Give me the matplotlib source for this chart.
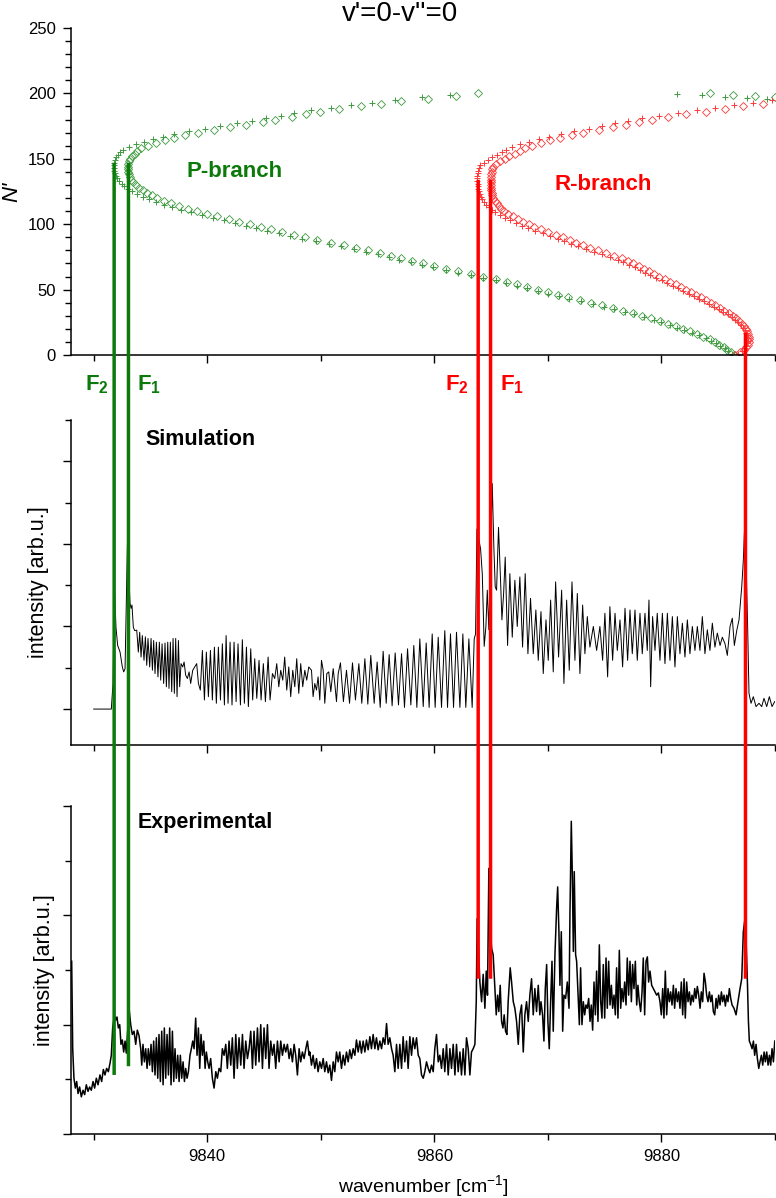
import matplotlib
matplotlib.use("Agg")
import matplotlib.pyplot as plt
from matplotlib.patches import ConnectionPatch
from matplotlib.ticker import MultipleLocator, NullFormatter

plt.rcParams['font.family'] = ['Liberation Sans', 'DejaVu Sans']
plt.rcParams['mathtext.fontset'] = 'custom'
plt.rcParams['mathtext.rm'] = 'Liberation Sans'
plt.rcParams['mathtext.bf'] = 'Liberation Sans:bold'
plt.rcParams['mathtext.it'] = 'Liberation Sans:italic'

# ---------------- Fortrat diagram ----------------
N_even = [0, 2, 4, 6, 8, 10, 12, 14, 16, 18, 20, 22, 24, 26, 28, 30, 32, 34, 36, 38,
          40, 42, 44, 46, 48, 50, 52, 54, 56, 58, 60, 62, 64, 66, 68, 70, 72, 74, 76, 78,
          80, 82, 84, 86, 88, 90, 92, 94, 96, 98, 100, 102, 104, 106, 108, 110, 112, 114,
          116, 118, 120, 122, 124, 126, 128, 130, 132, 134, 136, 138, 140, 142, 144, 146,
          148, 150, 152, 154, 156, 158, 160, 162, 164, 166, 168, 170, 172, 174, 176, 178,
          180, 182, 184, 186, 188, 190, 192, 194, 196, 198, 200]
N_odd = [1, 3, 5, 7, 9, 11, 13, 15, 17, 19, 21, 23, 25, 27, 29, 31, 33, 35, 37, 39,
         41, 43, 45, 47, 49, 51, 53, 55, 57, 59, 61, 63, 65, 67, 69, 71, 73, 75, 77, 79,
         81, 83, 85, 87, 89, 91, 93, 95, 97, 99, 101, 103, 105, 107, 109, 111, 113, 115,
         117, 119, 121, 123, 125, 127, 129, 131, 133, 135, 137, 139, 141, 143, 145, 147,
         149, 151, 153, 155, 157, 159, 161, 163, 165, 167, 169, 171, 173, 175, 177, 179,
         181, 183, 185, 187, 189, 191, 193, 195, 197, 199]

# P-branch F1 (diamonds), N even
p_f1 = [9886.4, 9886.1, 9885.8, 9885.5, 9885.1, 9884.7, 9884.3, 9883.7, 9883.1, 9882.5,
        9881.9, 9881.3, 9880.6, 9879.9, 9879.1, 9878.3, 9877.5, 9876.6, 9875.7, 9874.8,
        9873.8, 9872.8, 9871.8, 9870.9, 9870.0, 9869.1, 9868.2, 9867.3, 9866.4, 9865.4,
        9864.3, 9863.2, 9862.1, 9861.0, 9860.0, 9859.0, 9858.0, 9857.1, 9856.2, 9855.2,
        9854.2, 9853.1, 9852.0, 9850.9, 9849.7, 9848.6, 9847.6, 9846.6, 9845.6, 9844.7,
        9843.8, 9842.8, 9841.9, 9840.9, 9840.0, 9839.1, 9838.3, 9837.5, 9836.8, 9836.2,
        9835.6, 9835.1, 9834.7, 9834.3, 9834.0, 9833.7, 9833.5, 9833.3, 9833.2, 9833.1,
        9833.0, 9833.0, 9833.0, 9833.05, 9833.1, 9833.2, 9833.4, 9833.6, 9833.85, 9834.2,
        9834.8, 9835.5, 9836.3, 9837.1, 9838.0, 9839.2, 9840.6, 9842.0, 9843.4, 9844.9,
        9846.0, 9847.5, 9848.7, 9849.9, 9851.6, 9853.5, 9855.3, 9857.1, 9859.4, 9861.9,
        9863.8]
# P-branch F2 (plus), N odd
p_f2 = [9886.2, 9885.9, 9885.6, 9885.2, 9884.8, 9884.4, 9883.9, 9883.3, 9882.65, 9882.0,
        9881.4, 9880.75, 9880.0, 9879.3, 9878.45, 9877.6, 9876.75, 9875.85, 9874.9, 9873.95,
        9872.95, 9871.9, 9870.95, 9870.0, 9869.1, 9868.2, 9867.3, 9866.35, 9865.4, 9864.3,
        9863.2, 9862.1, 9861.0, 9859.9, 9858.9, 9857.9, 9856.9, 9856.0, 9855.0, 9854.0,
        9852.95, 9851.8, 9850.7, 9849.55, 9848.35, 9847.3, 9846.3, 9845.25, 9844.3, 9843.4,
        9842.4, 9841.45, 9840.5, 9839.5, 9838.6, 9837.7, 9836.9, 9836.15, 9835.45, 9834.85,
        9834.3, 9833.8, 9833.4, 9833.05, 9832.7, 9832.45, 9832.2, 9832.05, 9831.95, 9831.85,
        9831.75, 9831.75, 9831.75, 9831.8, 9831.85, 9831.95, 9832.15, 9832.35, 9832.6, 9833.1,
        9833.75, 9834.45, 9835.25, 9836.1, 9837.1, 9838.4, 9839.8, 9841.15, 9842.6, 9843.9,
        9845.15, 9846.5, 9847.65, 9849.1, 9850.9, 9852.7, 9854.5, 9856.5, 9858.9, 9861.35]
# R-branch F1 (diamonds), N even
r_f1 = [9886.5, 9886.95, 9887.25, 9887.45, 9887.6, 9887.7, 9887.7, 9887.7, 9887.65, 9887.55,
        9887.45, 9887.3, 9887.1, 9886.85, 9886.6, 9886.3, 9885.95, 9885.55, 9885.15, 9884.75,
        9884.35, 9883.95, 9883.5, 9883.05, 9882.6, 9882.15, 9881.7, 9881.25, 9880.75, 9880.3,
        9879.8, 9879.35, 9878.9, 9878.45, 9878.0, 9877.5, 9877.05, 9876.5, 9875.85, 9875.1,
        9874.4, 9873.7, 9873.05, 9872.5, 9871.95, 9871.35, 9870.7, 9870.0, 9869.35, 9868.8,
        9868.3, 9867.8, 9867.35, 9866.9, 9866.5, 9866.15, 9865.9, 9865.7, 9865.5, 9865.35,
        9865.2, 9865.1, 9865.05, 9865.0, 9864.97, 9864.95, 9864.95, 9864.95, 9864.97, 9865.0,
        9865.05, 9865.1, 9865.2, 9865.45, 9865.8, 9866.2, 9866.6, 9867.1, 9867.5, 9867.95,
        9868.6, 9869.35, 9870.2, 9871.1, 9872.1, 9873.1, 9874.5, 9875.7, 9876.9, 9878.05,
        9879.2, 9880.6, 9882.2, 9883.9, 9885.6, 9887.2, 9888.9, 9890.6, 9892.3, 9894.0,
        9895.7]
# R-branch F2 (plus), N odd
r_f2 = [9886.7, 9887.07, 9887.3, 9887.46, 9887.57, 9887.6, 9887.59, 9887.54, 9887.45, 9887.33,
        9887.19, 9887.0, 9886.75, 9886.48, 9886.19, 9885.85, 9885.46, 9885.04, 9884.62, 9884.21,
        9883.79, 9883.34, 9882.87, 9882.41, 9881.94, 9881.47, 9881.0, 9880.52, 9880.02, 9879.53,
        9879.03, 9878.57, 9878.1, 9877.63, 9877.14, 9876.65, 9876.13, 9875.51, 9874.79, 9874.05,
        9873.34, 9872.64, 9872.02, 9871.45, 9870.87, 9870.22, 9869.53, 9868.83, 9868.22, 9867.68,
        9867.16, 9866.66, 9866.2, 9865.76, 9865.36, 9865.04, 9864.81, 9864.59, 9864.39, 9864.22,
        9864.09, 9863.99, 9863.92, 9863.86, 9863.82, 9863.8, 9863.78, 9863.77, 9863.77, 9863.8,
        9863.83, 9863.89, 9864.04, 9864.33, 9864.69, 9865.07, 9865.5, 9865.94, 9866.34, 9866.87,
        9867.55, 9868.34, 9869.2, 9870.13, 9871.11, 9872.3, 9873.58, 9874.76, 9875.91, 9877.04,
        9878.31, 9879.79, 9881.42, 9883.1, 9884.74, 9886.37, 9888.05, 9889.7, 9891.4, 9893.1]

# stray green points near N=200 at the right edge
extra_d_wn = [9884.27, 9886.27, 9888.24, 9890.0]
extra_d_N = [200.0, 198.8, 198.0, 197.0]
extra_p_wn = [9881.34, 9883.54, 9885.59, 9887.5, 9889.27]
extra_p_N = [199.5, 198.8, 197.5, 196.7, 195.5]

# ---------------- simulated spectrum ----------------
sim_wn = [9830.0, 9831.55, 9831.70, 9831.82, 9831.96, 9832.11, 9832.32, 9832.52, 9832.64, 9832.76,
          9832.97, 9833.20, 9833.29, 9833.37, 9833.49, 9833.61, 9833.79, 9833.93, 9834.05, 9834.17,
          9834.28, 9834.43, 9834.55, 9834.67, 9834.78, 9834.93, 9835.05, 9835.17, 9835.28, 9835.40,
          9835.52, 9835.66, 9835.78, 9835.90, 9836.02, 9836.16, 9836.28, 9836.40, 9836.52, 9836.63,
          9836.75, 9836.87, 9836.99, 9837.10, 9837.22, 9837.34, 9837.46, 9837.57, 9837.69, 9837.84,
          9837.96, 9838.10, 9838.25, 9838.40, 9838.54, 9838.72, 9838.90, 9839.07, 9839.22, 9839.39,
          9839.57, 9839.75, 9839.92, 9840.10, 9840.28, 9840.45, 9840.63, 9840.80, 9840.98, 9841.16,
          9841.33, 9841.51, 9841.66, 9841.83, 9842.01, 9842.18, 9842.36, 9842.54, 9842.71, 9842.92,
          9843.09, 9843.27, 9843.45, 9843.62, 9843.83, 9844.00, 9844.18, 9844.36, 9844.56, 9844.74,
          9844.94, 9845.12, 9845.36, 9845.53, 9845.74, 9845.94, 9846.12, 9846.30, 9846.47, 9846.65,
          9846.82, 9847.00, 9847.18, 9847.35, 9847.53, 9847.71, 9847.88, 9848.06, 9848.23, 9848.41,
          9848.59, 9848.76, 9848.94, 9849.18, 9849.32, 9849.47, 9849.62, 9849.76, 9849.91, 9850.06,
          9850.21, 9850.35, 9850.53, 9850.70, 9850.88, 9851.09, 9851.23, 9851.38, 9851.53, 9851.73,
          9851.99, 9852.26, 9852.53, 9852.79, 9853.05, 9853.35, 9853.61, 9853.88, 9854.14, 9854.40,
          9854.70, 9854.96, 9855.23, 9855.49, 9855.76, 9856.02, 9856.28, 9856.55, 9856.84, 9857.11,
          9857.37, 9857.64, 9857.93, 9858.19, 9858.46, 9858.72, 9859.02, 9859.28, 9859.54, 9859.81,
          9860.07, 9860.34, 9860.63, 9860.92, 9861.16, 9861.42, 9861.69, 9861.95, 9862.25, 9862.51,
          9862.77, 9863.04, 9863.33, 9863.51, 9863.63, 9863.75, 9864.07, 9864.22, 9864.39, 9864.54,
          9864.66, 9864.80, 9865.10, 9865.24, 9865.36, 9865.48, 9865.65, 9865.83, 9865.95, 9866.10,
          9866.24, 9866.45, 9866.65, 9866.86, 9867.09, 9867.30, 9867.53, 9867.77, 9868.00, 9868.24,
          9868.47, 9868.71, 9868.94, 9869.15, 9869.39, 9869.59, 9869.83, 9870.03, 9870.24, 9870.47,
          9870.68, 9870.94, 9871.21, 9871.41, 9871.65, 9871.88, 9872.12, 9872.38, 9872.59, 9872.82,
          9873.06, 9873.26, 9873.47, 9873.70, 9874.00, 9874.29, 9874.58, 9874.82, 9875.02, 9875.26,
          9875.46, 9875.70, 9875.91, 9876.11, 9876.35, 9876.58, 9876.79, 9877.02, 9877.23, 9877.43,
          9877.67, 9877.87, 9878.11, 9878.31, 9878.55, 9878.75, 9878.90, 9879.05, 9879.22, 9879.43,
          9879.63, 9879.87, 9880.08, 9880.31, 9880.52, 9880.75, 9880.96, 9881.19, 9881.40, 9881.63,
          9881.84, 9882.07, 9882.28, 9882.51, 9882.72, 9882.95, 9883.16, 9883.39, 9883.60, 9883.83,
          9884.04, 9884.27, 9884.48, 9884.71, 9884.92, 9885.16, 9885.36, 9885.60, 9885.80, 9886.04,
          9886.24, 9886.42, 9886.63, 9886.83, 9887.07, 9887.21, 9887.36, 9887.59, 9887.71, 9887.89,
          9888.09, 9888.33, 9888.59, 9888.83, 9889.03, 9889.27, 9889.50, 9889.74, 9889.97]
sim_int = [0.0, 0.0, 0.31, 1.50, 0.99, 0.77, 0.69, 0.51, 0.45, 0.49,
           2.00, 1.28, 1.22, 1.26, 0.99, 0.95, 0.955, 0.69, 0.93, 0.63,
           0.89, 0.59, 0.875, 0.53, 0.855, 0.51, 0.855, 0.47, 0.83, 0.43,
           0.81, 0.39, 0.81, 0.35, 0.79, 0.31, 0.80, 0.27, 0.81, 0.25,
           0.81, 0.21, 0.855, 0.19, 0.855, 0.15, 0.83, 0.27, 0.55, 0.51,
           0.57, 0.41, 0.37, 0.45, 0.31, 0.47, 0.51, 0.55, 0.31, 0.23,
           0.71, 0.11, 0.69, 0.15, 0.71, 0.11, 0.75, 0.07, 0.75, 0.11,
           0.79, 0.05, 0.89, 0.07, 0.81, 0.05, 0.81, 0.09, 0.79, 0.05,
           0.84, 0.07, 0.75, 0.03, 0.73, 0.11, 0.61, 0.13, 0.59, 0.11,
           0.55, 0.09, 0.63, 0.11, 0.43, 0.37, 0.55, 0.27, 0.47, 0.35,
           0.63, 0.23, 0.51, 0.15, 0.47, 0.27, 0.61, 0.19, 0.55, 0.27,
           0.47, 0.35, 0.51, 0.47, 0.15, 0.31, 0.23, 0.39, 0.11, 0.59,
           0.47, 0.07, 0.43, 0.45, 0.21, 0.49, 0.31, 0.09, 0.43, 0.56,
           0.09, 0.47, 0.07, 0.56, 0.11, 0.55, 0.07, 0.61, 0.06, 0.65,
           0.07, 0.57, 0.02, 0.70, 0.07, 0.66, 0.04, 0.68, 0.05, 0.67,
           0.02, 0.73, 0.05, 0.77, 0.02, 0.85, 0.03, 0.80, 0.02, 0.91,
           0.02, 0.87, 0.02, 0.95, 0.02, 0.91, 0.02, 0.93, 0.02, 0.91,
           0.02, 0.85, 0.02, 0.85, 0.91, 2.18, 1.94, 1.64, 0.76, 1.00,
           1.44, 0.96, 2.73, 1.96, 1.48, 1.44, 2.20, 1.56, 1.08, 1.40,
           1.84, 0.77, 1.64, 0.87, 1.56, 1.00, 1.60, 0.75, 1.64, 0.67,
           1.34, 0.67, 1.20, 0.59, 1.18, 0.43, 1.08, 0.59, 1.32, 0.45,
           1.54, 0.63, 1.44, 0.31, 1.32, 0.47, 1.54, 0.59, 1.40, 0.43,
           1.26, 0.67, 1.12, 0.75, 1.00, 0.71, 1.00, 0.59, 1.16, 0.39,
           1.24, 0.59, 1.16, 0.71, 1.08, 0.51, 1.22, 0.59, 1.20, 0.67,
           1.20, 0.59, 1.16, 0.67, 1.16, 0.71, 1.32, 0.27, 1.12, 0.71,
           1.16, 0.59, 1.16, 0.55, 1.16, 0.59, 1.12, 0.51, 1.12, 0.67,
           1.04, 0.63, 1.08, 0.67, 1.00, 0.71, 1.00, 0.71, 1.12, 0.67,
           0.96, 0.71, 1.04, 0.75, 0.92, 0.77, 0.87, 0.79, 0.65, 1.00,
           1.10, 0.77, 0.95, 1.08, 1.48, 1.80, 2.33, 1.00, 0.19, 0.07,
           0.15, 0.03, 0.07, 0.03, 0.13, 0.03, 0.15, 0.03, 0.09]

# ---------------- experimental spectrum ----------------
exp_wn = [9828.06, 9828.15, 9828.26, 9828.38, 9828.50, 9828.62, 9828.76, 9828.91, 9829.06, 9829.20,
          9829.35, 9829.50, 9829.64, 9829.79, 9829.94, 9830.08, 9830.23, 9830.38, 9830.55, 9830.70,
          9830.85, 9830.99, 9831.14, 9831.29, 9831.44, 9831.55, 9831.67, 9831.82, 9831.93, 9832.05,
          9832.17, 9832.29, 9832.40, 9832.52, 9832.64, 9832.76, 9832.87, 9833.11, 9833.26, 9833.40,
          9833.55, 9833.70, 9833.84, 9833.99, 9834.14, 9834.23, 9834.34, 9834.46, 9834.58, 9834.70,
          9834.81, 9834.93, 9835.05, 9835.17, 9835.28, 9835.40, 9835.52, 9835.64, 9835.75, 9835.87,
          9835.99, 9836.11, 9836.22, 9836.34, 9836.46, 9836.58, 9836.69, 9836.81, 9836.93, 9837.05,
          9837.16, 9837.28, 9837.40, 9837.52, 9837.63, 9837.75, 9837.87, 9837.99, 9838.10, 9838.22,
          9838.34, 9838.48, 9838.60, 9838.72, 9838.84, 9838.98, 9839.10, 9839.22, 9839.34, 9839.45,
          9839.57, 9839.69, 9839.81, 9839.92, 9840.04, 9840.16, 9840.30, 9840.45, 9840.60, 9840.75,
          9840.89, 9841.04, 9841.19, 9841.33, 9841.48, 9841.63, 9841.77, 9841.92, 9842.07, 9842.21,
          9842.36, 9842.51, 9842.65, 9842.80, 9842.95, 9843.10, 9843.24, 9843.39, 9843.54, 9843.68,
          9843.83, 9843.98, 9844.12, 9844.27, 9844.42, 9844.56, 9844.71, 9844.86, 9845.00, 9845.15,
          9845.30, 9845.44, 9845.59, 9845.74, 9845.88, 9846.03, 9846.18, 9846.33, 9846.47, 9846.62,
          9846.77, 9846.91, 9847.06, 9847.21, 9847.35, 9847.50, 9847.65, 9847.79, 9847.94, 9848.09,
          9848.23, 9848.38, 9848.53, 9848.68, 9848.82, 9848.97, 9849.03, 9849.18, 9849.32, 9849.47,
          9849.62, 9849.76, 9849.91, 9850.06, 9850.21, 9850.35, 9850.50, 9850.65, 9850.79, 9850.94,
          9851.09, 9851.23, 9851.38, 9851.53, 9851.67, 9851.82, 9851.97, 9852.11, 9852.26, 9852.41,
          9852.55, 9852.70, 9852.85, 9853.00, 9853.14, 9853.29, 9853.44, 9853.58, 9853.73, 9853.88,
          9854.02, 9854.17, 9854.32, 9854.46, 9854.61, 9854.76, 9854.90, 9855.05, 9855.20, 9855.35,
          9855.49, 9855.64, 9855.79, 9855.93, 9856.08, 9856.23, 9856.37, 9856.52, 9856.67, 9856.81,
          9856.96, 9857.11, 9857.25, 9857.40, 9857.55, 9857.69, 9857.84, 9857.99, 9858.13, 9858.28,
          9858.43, 9858.58, 9858.72, 9858.87, 9859.02, 9859.16, 9859.31, 9859.46, 9859.60, 9859.75,
          9859.90, 9860.04, 9860.19, 9860.34, 9860.48, 9860.63, 9860.78, 9860.92, 9861.07, 9861.22,
          9861.37, 9861.51, 9861.66, 9861.81, 9861.95, 9862.10, 9862.25, 9862.39, 9862.54, 9862.69,
          9862.83, 9862.98, 9863.13, 9863.27, 9863.42, 9863.57, 9863.69, 9863.77, 9864.01, 9864.16,
          9864.30, 9864.45, 9864.57, 9864.68, 9864.80, 9864.92, 9865.04, 9865.18, 9865.33, 9865.45,
          9865.57, 9865.68, 9865.80, 9865.92, 9866.04, 9866.15, 9866.27, 9866.39, 9866.50, 9866.68,
          9866.80, 9866.95, 9867.09, 9867.24, 9867.39, 9867.53, 9867.68, 9867.83, 9867.97, 9868.12,
          9868.27, 9868.41, 9868.56, 9868.71, 9868.85, 9869.00, 9869.15, 9869.29, 9869.39, 9869.53,
          9869.65, 9869.77, 9869.89, 9870.00, 9870.12, 9870.24, 9870.36, 9870.47, 9870.62, 9870.77,
          9870.86, 9870.97, 9871.06, 9871.18, 9871.30, 9871.41, 9871.56, 9871.71, 9871.86, 9871.94,
          9872.06, 9872.15, 9872.24, 9872.32, 9872.44, 9872.53, 9872.65, 9872.77, 9872.88, 9873.00,
          9873.12, 9873.24, 9873.35, 9873.47, 9873.59, 9873.71, 9873.82, 9873.94, 9874.06, 9874.18,
          9874.29, 9874.41, 9874.53, 9874.65, 9874.76, 9874.88, 9875.00, 9875.12, 9875.23, 9875.35,
          9875.47, 9875.59, 9875.70, 9875.82, 9875.94, 9876.05, 9876.17, 9876.29, 9876.41, 9876.52,
          9876.64, 9876.76, 9876.88, 9876.99, 9877.11, 9877.23, 9877.35, 9877.46, 9877.58, 9877.70,
          9877.82, 9877.93, 9878.05, 9878.17, 9878.29, 9878.40, 9878.52, 9878.64, 9878.76, 9878.87,
          9878.99, 9879.14, 9879.29, 9879.43, 9879.58, 9879.73, 9879.87, 9879.99, 9880.11, 9880.22,
          9880.34, 9880.46, 9880.58, 9880.70, 9880.81, 9880.93, 9881.05, 9881.16, 9881.28, 9881.40,
          9881.52, 9881.63, 9881.75, 9881.87, 9881.99, 9882.10, 9882.22, 9882.34, 9882.46, 9882.57,
          9882.69, 9882.81, 9882.93, 9883.04, 9883.16, 9883.28, 9883.40, 9883.51, 9883.63, 9883.75,
          9883.87, 9883.98, 9884.10, 9884.22, 9884.34, 9884.45, 9884.57, 9884.69, 9884.81, 9884.92,
          9885.04, 9885.16, 9885.28, 9885.39, 9885.51, 9885.63, 9885.75, 9885.86, 9885.98, 9886.10,
          9886.22, 9886.39, 9886.57, 9886.74, 9886.92, 9887.07, 9887.21, 9887.33, 9887.45, 9887.57,
          9887.66, 9887.74, 9887.86, 9887.98, 9888.10, 9888.21, 9888.33, 9888.45, 9888.57, 9888.68,
          9888.80, 9888.92, 9889.04, 9889.15, 9889.27, 9889.39, 9889.51, 9889.62, 9889.74, 9889.86,
          9889.98]
exp_int = [1.58, 0.78, 0.51, 0.42, 0.48, 0.37, 0.43, 0.34, 0.40, 0.36,
           0.45, 0.39, 0.43, 0.40, 0.48, 0.42, 0.51, 0.45, 0.54, 0.48,
           0.59, 0.54, 0.60, 0.57, 0.65, 0.72, 0.97, 1.09, 1.04, 1.07,
           0.97, 1.00, 0.82, 0.86, 0.75, 0.85, 0.74, 1.15, 1.00, 0.91,
           0.94, 0.82, 0.95, 0.90, 0.78, 0.63, 0.82, 0.66, 0.78, 0.60,
           0.78, 0.63, 0.82, 0.57, 0.85, 0.54, 0.88, 0.51, 0.91, 0.48,
           0.94, 0.45, 0.97, 0.51, 0.91, 0.54, 0.97, 0.45, 0.94, 0.48,
           0.78, 0.51, 0.72, 0.48, 0.72, 0.51, 0.66, 0.48, 0.60, 0.51,
           0.57, 0.72, 0.78, 0.85, 0.78, 1.06, 0.72, 0.97, 0.60, 0.91,
           0.72, 0.85, 0.60, 0.75, 0.66, 0.60, 0.69, 0.51, 0.42, 0.57,
           0.51, 0.60, 0.57, 0.78, 0.72, 0.82, 0.60, 0.85, 0.63, 0.88,
           0.51, 0.91, 0.60, 0.88, 0.63, 0.91, 0.60, 0.85, 0.69, 0.78,
           0.94, 0.60, 0.94, 0.63, 0.97, 0.66, 1.00, 0.60, 0.97, 0.69,
           1.00, 0.60, 0.85, 0.72, 0.82, 0.60, 0.85, 0.66, 0.85, 0.72,
           0.82, 0.75, 0.82, 0.69, 0.78, 0.66, 0.82, 0.72, 0.54, 0.78,
           0.66, 0.75, 0.69, 0.78, 0.85, 0.72, 0.75, 0.63, 0.72, 0.60,
           0.69, 0.57, 0.66, 0.60, 0.69, 0.57, 0.66, 0.56, 0.63, 0.49,
           0.66, 0.57, 0.75, 0.66, 0.75, 0.60, 0.72, 0.63, 0.75, 0.66,
           0.77, 0.69, 0.78, 0.72, 0.86, 0.75, 0.85, 0.74, 0.85, 0.75,
           0.86, 0.77, 0.89, 0.78, 0.91, 0.78, 0.88, 0.77, 0.85, 0.78,
           0.88, 0.82, 1.01, 0.82, 0.88, 0.78, 0.72, 0.57, 0.82, 0.60,
           0.82, 0.60, 0.89, 0.66, 0.85, 0.60, 0.89, 0.72, 0.88, 0.78,
           0.88, 0.72, 0.69, 0.54, 0.51, 0.57, 0.66, 0.60, 0.56, 0.63,
           0.57, 0.78, 0.91, 0.66, 0.72, 0.60, 0.78, 0.57, 0.82, 0.54,
           0.78, 0.60, 0.82, 0.54, 0.82, 0.57, 0.75, 0.54, 0.78, 0.54,
           0.88, 0.78, 0.54, 0.75, 0.78, 0.82, 1.21, 1.97, 1.39, 1.21,
           1.46, 1.15, 1.49, 1.27, 2.43, 1.91, 1.70, 1.64, 1.33, 1.09,
           1.27, 1.12, 1.36, 1.03, 0.97, 1.09, 0.94, 0.91, 1.21, 1.52,
           1.39, 1.21, 1.15, 1.03, 0.82, 1.09, 1.18, 0.75, 1.09, 1.21,
           1.03, 1.27, 1.42, 1.09, 1.33, 1.12, 1.36, 1.09, 1.21, 1.09,
           0.85, 1.33, 1.55, 1.03, 0.78, 1.21, 1.58, 0.94, 1.64, 2.07,
           2.26, 1.85, 1.36, 1.85, 0.94, 1.27, 1.24, 1.39, 1.15, 2.00,
           2.86, 2.37, 1.67, 2.40, 1.64, 1.58, 1.30, 1.00, 1.52, 1.00,
           1.21, 1.09, 1.18, 1.15, 1.24, 1.03, 1.18, 0.95, 1.39, 1.09,
           1.49, 1.03, 1.73, 1.21, 1.06, 1.55, 1.06, 1.61, 1.15, 1.58,
           1.18, 1.36, 1.15, 1.27, 1.09, 1.52, 1.06, 1.68, 1.15, 1.33,
           1.21, 1.39, 1.18, 1.61, 1.27, 1.58, 1.21, 1.55, 1.33, 1.58,
           1.18, 1.36, 1.21, 1.12, 1.30, 1.61, 1.09, 1.58, 1.62, 1.39,
           1.49, 1.36, 1.33, 1.30, 1.27, 1.29, 1.21, 1.09, 1.33, 1.06,
           1.49, 1.09, 1.33, 1.21, 1.30, 1.18, 1.36, 1.15, 1.33, 1.21,
           1.30, 1.15, 1.39, 1.09, 1.42, 1.06, 1.39, 1.21, 1.30, 1.18,
           1.27, 1.21, 1.33, 1.24, 1.35, 1.27, 1.15, 1.30, 1.21, 1.47,
           1.39, 1.27, 1.21, 1.30, 1.21, 1.27, 1.12, 1.09, 1.24, 1.15,
           1.27, 1.18, 1.30, 1.21, 1.27, 1.17, 1.27, 1.21, 1.33, 1.24,
           1.18, 1.15, 1.09, 1.21, 1.33, 1.42, 1.85, 1.95, 1.79, 1.39,
           1.03, 0.85, 0.82, 0.78, 0.85, 0.72, 0.82, 0.69, 0.60, 0.66,
           0.72, 0.63, 0.75, 0.66, 0.75, 0.63, 0.72, 0.63, 0.78, 0.66,
           0.85]

# band heads marked by the vertical lines
head_wn = [9831.8, 9833.06, 9863.86, 9864.95, 9887.4]
head_top_N = [147, 147, 134, 134, 17]
head_bot_int = [0.54, 0.62, 1.42, 1.42, 1.42]
head_col = ['#0b7a0b', '#0b7a0b', '#ff0000', '#ff0000', '#ff0000']

GREEN = '#0b7a0b'
GREEN_M = '#3f9b3f'
RED = '#ff0000'
RED_M = '#ff3a3a'

W, H = 776, 1198
fig = plt.figure(figsize=(W / 100, H / 100), dpi=100)
left, width = 71 / W, 704 / W
ax_top = fig.add_axes([left, 1 - 355 / H, width, 327 / H])
ax_mid = fig.add_axes([left, 1 - 745 / H, width, 325 / H])
ax_bot = fig.add_axes([left, 1 - 1134 / H, width, 328 / H])

for ax in (ax_top, ax_mid, ax_bot):
    ax.set_xlim(9828, 9890)
    for s in ('top', 'right'):
        ax.spines[s].set_visible(False)
    for s in ('left', 'bottom'):
        ax.spines[s].set_linewidth(1.1)
    ax.xaxis.set_major_locator(MultipleLocator(20))
    ax.xaxis.set_minor_locator(MultipleLocator(10))
    ax.tick_params(which='major', direction='out', length=6, width=1.0, labelsize=12, pad=5)
    ax.tick_params(which='minor', direction='out', length=4, width=1.0)

# top: Fortrat diagram
mk_d = dict(ls='none', marker='D', ms=4.3, mfc='none', mew=0.6)
mk_p = dict(ls='none', marker='+', ms=5.0, mew=0.7)
ax_top.plot(p_f1, N_even, mec=GREEN_M, **mk_d)
ax_top.plot(p_f2, N_odd, mec=GREEN_M, **mk_p)
ax_top.plot(extra_d_wn, extra_d_N, mec=GREEN_M, **mk_d)
ax_top.plot(extra_p_wn, extra_p_N, mec=GREEN_M, **mk_p)
ax_top.plot(r_f1, N_even, mec=RED_M, **mk_d)
ax_top.plot(r_f2, N_odd, mec=RED_M, **mk_p)
ax_top.set_ylim(0, 250)
ax_top.yaxis.set_major_locator(MultipleLocator(50))
ax_top.yaxis.set_minor_locator(MultipleLocator(10))
ax_top.xaxis.set_major_formatter(NullFormatter())
ax_top.set_ylabel("N'", fontsize=16, style='italic', labelpad=4)
ax_top.text(9842.4, 140.5, 'P-branch', color=GREEN, fontsize=16, fontweight='bold',
            ha='center', va='center')
ax_top.text(9874.85, 130, 'R-branch', color=RED, fontsize=16, fontweight='bold',
            ha='center', va='center')

# middle: simulation
ax_mid.plot(sim_wn, sim_int, color='black', lw=0.7)
ax_mid.set_ylim(-0.435, 3.5)
ax_mid.yaxis.set_major_locator(MultipleLocator(1))
ax_mid.yaxis.set_minor_locator(MultipleLocator(0.5))
ax_mid.yaxis.set_major_formatter(NullFormatter())
ax_mid.xaxis.set_major_formatter(NullFormatter())
ax_mid.set_ylabel('intensity [arb.u.]', fontsize=15.5, labelpad=4.5)
ax_mid.text(0.106, 0.94, 'Simulation', transform=ax_mid.transAxes, fontsize=15.5,
            fontweight='bold', ha='left', va='center')

# bottom: experiment
ax_bot.plot(exp_wn, exp_int, color='black', lw=1.1)
ax_bot.set_ylim(0, 3)
ax_bot.yaxis.set_major_locator(MultipleLocator(1))
ax_bot.yaxis.set_minor_locator(MultipleLocator(0.5))
ax_bot.yaxis.set_major_formatter(NullFormatter())
ax_bot.set_ylabel('intensity [arb.u.]', fontsize=15.5, labelpad=0.5)
ax_bot.set_xlabel(r'wavenumber [cm$^{-1}$]', fontsize=14, labelpad=6)
ax_bot.text(0.095, 0.951, 'Experimental', transform=ax_bot.transAxes, fontsize=15.5,
            fontweight='bold', ha='left', va='center')

fig.text(400 / W, 1 - 14 / H, "v'=0-v''=0", fontsize=20, ha='center', va='center')

# F labels
for xp, lab, col in [(97, r'$\mathbf{F}_\mathbf{2}$', GREEN), (149, r'$\mathbf{F}_\mathbf{1}$', GREEN),
                     (457, r'$\mathbf{F}_\mathbf{2}$', RED), (512, r'$\mathbf{F}_\mathbf{1}$', RED)]:
    fig.text(xp / W, 1 - 385 / H, lab, color=col, fontsize=16, ha='center', va='center')

# vertical band-head lines spanning the panels
for xw, nt, ib, c in zip(head_wn, head_top_N, head_bot_int, head_col):
    con = ConnectionPatch(xyA=(xw, nt), coordsA='data', axesA=ax_top,
                          xyB=(xw, ib), coordsB='data', axesB=ax_bot,
                          color=c, lw=2.5, zorder=10)
    con.set_capstyle('butt')
    fig.add_artist(con)

fig.savefig('out.png', dpi=100)
